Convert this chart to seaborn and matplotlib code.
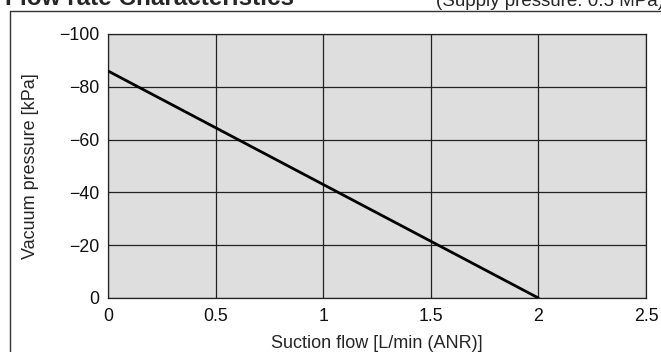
import matplotlib
matplotlib.use("Agg")
import matplotlib.pyplot as plt
from matplotlib.lines import Line2D
import seaborn as sns
import pandas as pd

# flow rate characteristics (supply pressure 0.5 MPa)
suction_flow = [0.0, 2.0]          # L/min (ANR)
vacuum_pressure = [-86.0, 0.0]     # kPa
x_ticks = [0, 0.5, 1, 1.5, 2, 2.5]
x_tick_labels = ["0", "0.5", "1", "1.5", "2", "2.5"]
y_ticks = [-100, -80, -60, -40, -20, 0]
y_tick_labels = ["\u2212100", "\u221280", "\u221260", "\u221240", "\u221220", "0"]

W, H = 661, 352

sns.set_style("white", {"axes.facecolor": "#dedede", "axes.edgecolor": "#222222"})
plt.rcParams['font.family'] = ['Liberation Sans', 'DejaVu Sans']

fig = plt.figure(figsize=(W / 100, H / 100), dpi=100)
ax = fig.add_axes([108 / W, 1 - 298 / H, (646 - 108) / W, (298 - 34) / H])

df = pd.DataFrame({"flow": suction_flow, "pressure": vacuum_pressure})
sns.lineplot(data=df, x="flow", y="pressure", ax=ax, color="black", linewidth=2, zorder=3)

ax.set_xlim(0, 2.5)
ax.set_ylim(0, -100)
ax.set_xticks(x_ticks)
ax.set_xticklabels(x_tick_labels)
ax.set_yticks(y_ticks)
ax.set_yticklabels(y_tick_labels)
ax.grid(True, color="#222222", linewidth=0.9)
ax.set_axisbelow(True)
ax.tick_params(length=0, labelsize=12.8, colors="#111111")
ax.tick_params(axis="x", pad=7.5)
ax.tick_params(axis="y", pad=6)
for s in ax.spines.values():
    s.set_linewidth(0.9)

ax.set_xlabel("Suction flow [L/min (ANR)]", fontsize=13, labelpad=7)
ax.set_ylabel("Vacuum pressure [kPa]", fontsize=13, labelpad=15)

# outer panel frame (cropped at right and bottom)
fig.add_artist(Line2D([10 / W, 10 / W], [1 - 11 / H, 0], transform=fig.transFigure,
                      color="#333333", linewidth=1))
fig.add_artist(Line2D([10 / W, 1], [1 - 11 / H, 1 - 11 / H], transform=fig.transFigure,
                      color="#333333", linewidth=1))

fig.text(5 / W, 1 - 5 / H, "Flow rate Characteristics", fontsize=17.5, fontweight="bold",
         va="baseline", ha="left")
fig.text(436 / W, 1 - 6 / H, "(Supply pressure: 0.5 MPa)", fontsize=13.5,
         va="baseline", ha="left")

fig.savefig("out.png", dpi=100)
